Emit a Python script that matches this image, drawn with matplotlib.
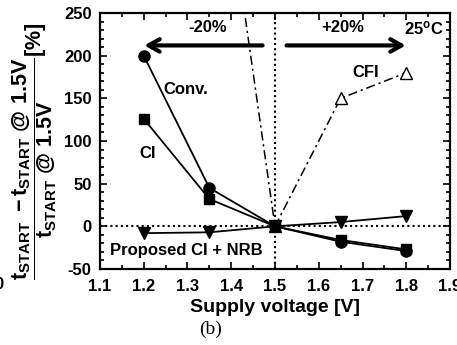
import numpy as np
import matplotlib.pyplot as plt
from matplotlib.ticker import MultipleLocator

plt.rcParams['font.family'] = ['Liberation Sans', 'DejaVu Sans']
plt.rcParams['font.weight'] = 'bold'
plt.rcParams['axes.unicode_minus'] = False
plt.rcParams['mathtext.fontset'] = 'custom'
plt.rcParams['mathtext.rm'] = 'Liberation Sans:bold'
plt.rcParams['mathtext.it'] = 'Liberation Sans:bold'
plt.rcParams['mathtext.bf'] = 'Liberation Sans:bold'

# supply voltage sweep
vdd = [1.2, 1.35, 1.5, 1.65, 1.8]
conv = [200, 45, 0, -18, -29]
ci = [126, 32, 0, -16, -27]
proposed = [-8, -7, 0, 5, 12]
# CFI at 1.35 V runs off the top of the plot
vdd_cfi = [1.35, 1.5, 1.65, 1.8]
cfi = [540, 0, 150, 180]

fig = plt.figure(figsize=(4.57, 3.45), dpi=100)
ax = fig.add_axes([100 / 457, 1 - 269 / 345, 350 / 457, 256 / 345])

ax.axhline(0, color='black', ls=(0, (1, 1.5)), lw=1.5, zorder=1)
ax.axvline(1.5, color='black', ls=(0, (1, 1.5)), lw=1.5, zorder=1)

ax.plot(vdd, conv, '-o', color='black', ms=8, lw=1.3, zorder=3)
ax.plot(vdd, ci, '-s', color='black', ms=7, lw=1.3, zorder=3)
ax.plot(vdd, proposed, '-v', color='black', ms=9, lw=1.3, zorder=3)
ax.plot(vdd_cfi, cfi, color='black', ls=(0, (6, 2.5, 1.5, 2.5)), marker='^',
        mfc='white', ms=9, lw=1.1, zorder=2)

ax.set_xlim(1.1, 1.9)
ax.set_ylim(-50, 250)
ax.xaxis.set_major_locator(MultipleLocator(0.1))
ax.xaxis.set_minor_locator(MultipleLocator(0.05))
ax.yaxis.set_major_locator(MultipleLocator(50))
ax.yaxis.set_minor_locator(MultipleLocator(10))
ax.tick_params(which='both', direction='in', top=True, right=True,
               labelsize=12, width=1.2)
ax.tick_params(axis='x', pad=7)
ax.tick_params(axis='y', pad=6)
ax.tick_params(which='major', length=5)
ax.tick_params(which='minor', length=3)
for s in ax.spines.values():
    s.set_linewidth(1.6)
for lab in ax.get_xticklabels() + ax.get_yticklabels():
    lab.set_fontweight('bold')

ax.set_xlabel('Supply voltage [V]', fontsize=14, fontweight='bold', labelpad=4)

# arrows showing the +/-20 % supply range
ax.annotate('', xy=(1.195, 212), xytext=(1.478, 212),
            arrowprops=dict(arrowstyle='->,head_length=0.8,head_width=0.45',
                            lw=3, color='black'))
ax.annotate('', xy=(1.805, 212), xytext=(1.52, 212),
            arrowprops=dict(arrowstyle='->,head_length=0.8,head_width=0.45',
                            lw=3, color='black'))
ax.text(1.346, 224, '-20%', ha='center', va='bottom', fontsize=12, fontweight='bold')
ax.text(1.655, 224, '+20%', ha='center', va='bottom', fontsize=12, fontweight='bold')
ax.text(1.885, 232, '25$^{\\mathrm{o}}$C', ha='right', va='center', fontsize=12,
        fontweight='bold')
ax.text(1.244, 160, 'Conv.', ha='left', va='center', fontsize=12, fontweight='bold')
ax.text(1.19, 85, 'CI', ha='left', va='center', fontsize=12, fontweight='bold')
ax.text(1.678, 180, 'CFI', ha='left', va='center', fontsize=12, fontweight='bold')
ax.text(1.122, -28, 'Proposed CI + NRB', ha='left', va='center', fontsize=12,
        fontweight='bold')

ylab = (r'$\dfrac{t_{START}\ -t_{START}\ @\ 1.5V}{t_{START}\ @\ 1.5V}$'
        r'$[\%]$')
fig.text(0.074, 0.56, ylab, rotation=90, ha='center', va='center', fontsize=15.5)

fig.text(0.46, 0.045, '(b)', family='Liberation Serif', fontweight='normal',
         ha='center', va='center', fontsize=14)
fig.text(-0.012, 0.175, '0', ha='left', va='center', fontsize=12)

fig.savefig('out.png', dpi=100)
